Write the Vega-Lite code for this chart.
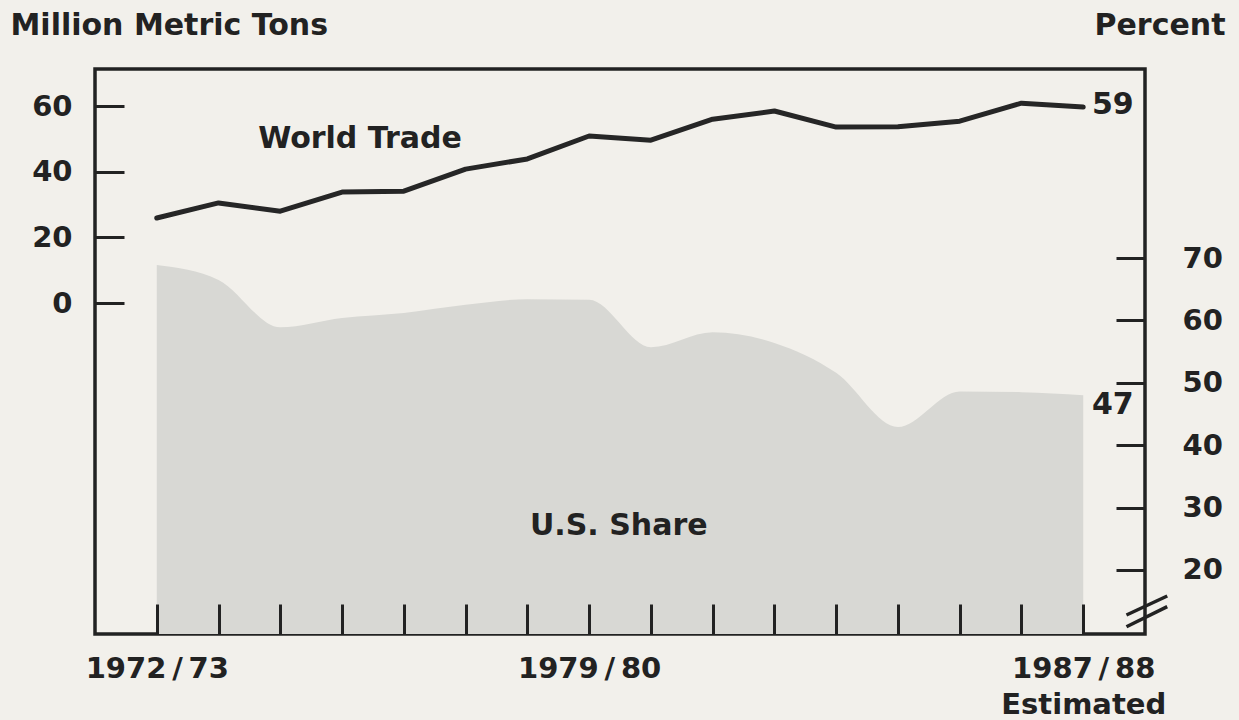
{
  "$schema": "https://vega.github.io/schema/vega-lite/v6.json",
  "width": 1050,
  "height": 565,
  "autosize": {"type": "none"},
  "padding": {"left": 95, "top": 69, "right": 94, "bottom": 86},
  "background": "#f2f0eb",
  "config": {
    "view": {"stroke": "#222222", "strokeWidth": 3.5},
    "font": "DejaVu Sans",
    "axis": {
      "grid": false,
      "domain": false,
      "labelFont": "DejaVu Sans",
      "labelFontWeight": "bold",
      "labelFontSize": 29,
      "labelColor": "#222222",
      "tickColor": "#222222",
      "tickWidth": 3,
      "titleFont": "DejaVu Sans",
      "titleFontWeight": "bold",
      "titleFontSize": 30,
      "titleColor": "#222222"
    }
  },
  "datasets": {
    "trade": [
      {"year": 1972, "tons": 25.9},
      {"year": 1973, "tons": 30.5},
      {"year": 1974, "tons": 28.0},
      {"year": 1975, "tons": 33.8},
      {"year": 1976, "tons": 34.1},
      {"year": 1977, "tons": 40.8},
      {"year": 1978, "tons": 43.9},
      {"year": 1979, "tons": 50.9},
      {"year": 1980, "tons": 49.6},
      {"year": 1981, "tons": 56.0},
      {"year": 1982, "tons": 58.5},
      {"year": 1983, "tons": 53.6},
      {"year": 1984, "tons": 53.7},
      {"year": 1985, "tons": 55.4},
      {"year": 1986, "tons": 60.9},
      {"year": 1987, "tons": 59.7}
    ],
    "share": [
      {"year": 1972, "share": 68.9},
      {"year": 1973, "share": 66.5},
      {"year": 1974, "share": 58.9},
      {"year": 1975, "share": 60.4},
      {"year": 1976, "share": 61.2},
      {"year": 1977, "share": 62.5},
      {"year": 1978, "share": 63.4},
      {"year": 1979, "share": 63.3},
      {"year": 1980, "share": 55.7},
      {"year": 1981, "share": 58.1},
      {"year": 1982, "share": 56.4},
      {"year": 1983, "share": 51.6},
      {"year": 1984, "share": 42.9},
      {"year": 1985, "share": 48.6},
      {"year": 1986, "share": 48.5},
      {"year": 1987, "share": 48.0}
    ],
    "tradeLabels": [
      {"year": 1975.29, "tons": 50.0, "label": "World Trade", "kind": "name"},
      {"year": 1987.14, "tons": 60.3, "label": "59", "kind": "end"}
    ],
    "shareLabels": [
      {"year": 1979.48, "share": 27.0, "label": "U.S. Share", "kind": "name"},
      {"year": 1987.14, "share": 46.4, "label": "47", "kind": "end"}
    ],
    "axisBreak": [
      {"year": 1987.70, "year2": 1988.36, "share": 12.79, "share2": 15.83},
      {"year": 1987.70, "year2": 1988.36, "share": 10.91, "share2": 14.12}
    ]
  },
  "encoding": {
    "x": {
      "field": "year",
      "type": "quantitative",
      "scale": {"domain": [1971, 1988], "nice": false, "zero": false},
      "axis": {
        "orient": "bottom",
        "title": null,
        "zindex": 1,
        "values": [1972, 1973, 1974, 1975, 1976, 1977, 1978, 1979, 1980, 1981, 1982, 1983, 1984, 1985, 1986, 1987],
        "tickSize": -30,
        "labelPadding": 50,
        "labelOverlap": false,
        "labelFlush": false,
        "labelLineHeight": 36,
        "labelExpr": "datum.value == 1972 ? '1972\u2009/\u200973' : datum.value == 1979 ? '1979\u2009/\u200980' : datum.value == 1987 ? ['1987\u2009/\u200988', 'Estimated'] : ''"
      }
    }
  },
  "layer": [
    {
      "encoding": {
        "y": {
          "field": "share",
          "type": "quantitative",
          "scale": {"domain": [9.74, 100.3], "nice": false, "zero": false},
          "axis": {
            "orient": "right",
            "zindex": 1,
            "values": [20, 30, 40, 50, 60, 70],
            "tickSize": -29,
            "labelPadding": 66,
            "labelAlign": "left",
            "title": "Percent",
            "titleAngle": 0,
            "titleAlign": "right",
            "titleBaseline": "middle",
            "titleX": 80,
            "titleY": -44
          }
        }
      },
      "layer": [
        {
          "data": {"name": "share"},
          "mark": {"type": "area", "color": "#d8d8d4", "interpolate": "monotone"},
          "encoding": {"y2": {"datum": 9.74}}
        },
        {
          "data": {"name": "shareLabels"},
          "transform": [{"filter": "datum.kind == 'name'"}],
          "mark": {"type": "text", "font": "DejaVu Sans", "fontWeight": "bold", "fontSize": 30, "color": "#222222", "baseline": "middle", "align": "center"},
          "encoding": {"text": {"field": "label"}}
        },
        {
          "data": {"name": "shareLabels"},
          "transform": [{"filter": "datum.kind == 'end'"}],
          "mark": {"type": "text", "font": "DejaVu Sans", "fontWeight": "bold", "fontSize": 30, "color": "#222222", "baseline": "middle", "align": "left"},
          "encoding": {"text": {"field": "label"}}
        },
        {
          "data": {"name": "axisBreak"},
          "mark": {"type": "rule", "color": "#222222", "strokeWidth": 3.5, "clip": false},
          "encoding": {
            "x2": {"field": "year2"},
            "y2": {"field": "share2"}
          }
        }
      ]
    },
    {
      "encoding": {
        "y": {
          "field": "tons",
          "type": "quantitative",
          "scale": {"domain": [-100.8, 71.3], "nice": false, "zero": false},
          "axis": {
            "orient": "left",
            "zindex": 1,
            "values": [0, 20, 40, 60],
            "tickSize": -29,
            "labelPadding": 52,
            "title": "Million Metric Tons",
            "titleAngle": 0,
            "titleAlign": "left",
            "titleBaseline": "middle",
            "titleX": -85,
            "titleY": -44
          }
        }
      },
      "layer": [
        {
          "data": {"name": "trade"},
          "mark": {"type": "line", "color": "#262626", "strokeWidth": 5, "strokeCap": "round", "strokeJoin": "round"},
          "encoding": {}
        },
        {
          "data": {"name": "tradeLabels"},
          "transform": [{"filter": "datum.kind == 'name'"}],
          "mark": {"type": "text", "font": "DejaVu Sans", "fontWeight": "bold", "fontSize": 30, "color": "#222222", "baseline": "middle", "align": "center"},
          "encoding": {"text": {"field": "label"}}
        },
        {
          "data": {"name": "tradeLabels"},
          "transform": [{"filter": "datum.kind == 'end'"}],
          "mark": {"type": "text", "font": "DejaVu Sans", "fontWeight": "bold", "fontSize": 30, "color": "#222222", "baseline": "middle", "align": "left"},
          "encoding": {"text": {"field": "label"}}
        }
      ]
    }
  ],
  "resolve": {"scale": {"y": "independent"}, "axis": {"y": "independent"}}
}
